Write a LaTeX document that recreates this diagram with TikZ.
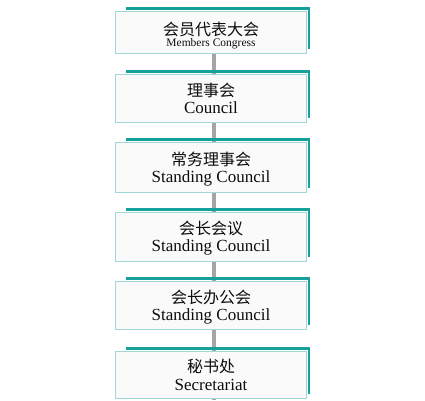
\documentclass[tikz,border=0pt]{standalone}
\usepackage{fontspec}
\setmainfont{Liberation Serif}
\newfontfamily\cjk{Noto Sans CJK SC}
\definecolor{boxline}{HTML}{9FD8D6}
\definecolor{boxfill}{HTML}{FAFAFA}
\definecolor{tealshadow}{HTML}{16A09C}
\definecolor{conn}{HTML}{A5A5A5}
\tikzset{
  orgbox/.style={draw=boxline, line width=1.2pt, fill=boxfill, minimum width=190pt, minimum height=47pt, inner sep=0pt, align=center},
  shadowline/.style={draw=tealshadow, line width=2.6pt},
  connector/.style={draw=conn, line width=4pt},
  label/.style={text=black!95},
}
\newcommand{\zh}[1]{{\cjk\fontsize{16}{19}\selectfont #1}}
\newcommand{\en}[1]{{\fontsize{17}{19}\selectfont #1}}
\begin{document}
\begin{tikzpicture}[x=1pt,y=-1pt]
\useasboundingbox (0,0) rectangle (425,400);
\fill[white] (0,0) rectangle (425,400);
% boxes (positions)
\path (211,32.5) node[orgbox, minimum height=41pt] (b1) {};
\path (211,98.5) node[orgbox] (b2) {};
\path (211,167.5) node[orgbox, minimum height=49pt] (b3) {};
\path (211,237) node[orgbox, minimum height=48pt] (b4) {};
\path (211,305.5) node[orgbox] (b5) {};
\path (211,375) node[orgbox, minimum height=46pt] (b6) {};
\coordinate (end) at (214,400);
% connectors
\foreach \a/\b in {b1/b2,b2/b3,b3/b4,b4/b5,b5/b6} {
  \draw[connector] ([xshift=3pt]\a.south) -- ([xshift=3pt]\b.north);
}
\draw[connector] ([xshift=3pt]b6.south) -- (end);
% teal shadows
\foreach \n in {b1,b2,b3,b4,b5,b6} {
  \draw[shadowline] ([xshift=11pt,yshift=3pt]\n.north west) -| ([xshift=2.5pt,yshift=5pt]\n.south east);
}
% redraw boxes on top
\foreach \n in {b1,b2,b3,b4,b5,b6} {
  \draw[draw=boxline, line width=1.2pt, fill=boxfill] (\n.north west) rectangle (\n.south east);
}
% texts
\node[label] (t1a) at (211,29) {\zh{会员代表大会}};
\node[label] (t1b) at (211,44) {{\fontsize{11.5}{12}\selectfont Members Congress}};
\node[label] (t2a) at (211,90) {\zh{理事会}};
\node[label] (t2b) at (211,108) {\en{Council}};
\node[label] (t3a) at (211,159) {\zh{常务理事会}};
\node[label] (t3b) at (211,178) {\en{Standing Council}};
\node[label] (t4a) at (211,228) {\zh{会长会议}};
\node[label] (t4b) at (211,247) {\en{Standing Council}};
\node[label] (t5a) at (211,297) {\zh{会长办公会}};
\node[label] (t5b) at (211,316) {\en{Standing Council}};
\node[label] (t6a) at (211,366) {\zh{秘书处}};
\node[label] (t6b) at (211,385) {\en{Secretariat}};
\end{tikzpicture}
\end{document}
